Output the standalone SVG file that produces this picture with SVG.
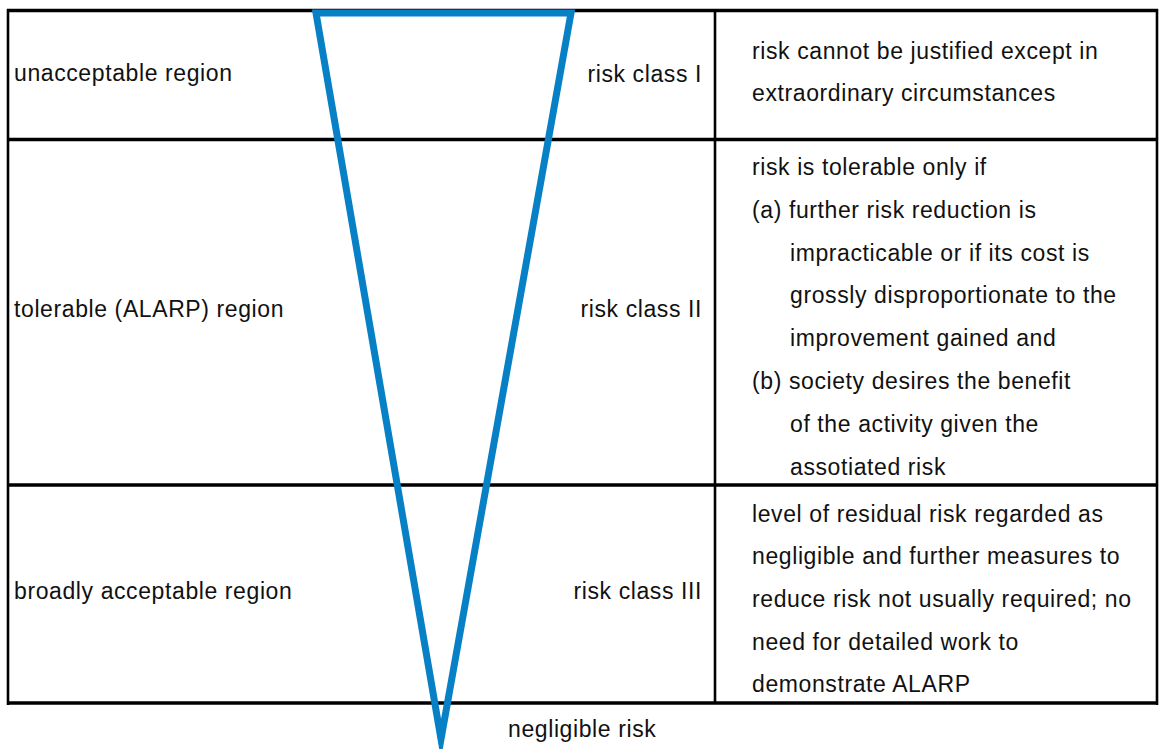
<svg xmlns="http://www.w3.org/2000/svg" width="1160" height="749" viewBox="0 0 1160 749">
<style>
text{font-family:"Liberation Sans",Arial,sans-serif;font-size:23px;fill:#111;letter-spacing:0.6px}
.end{text-anchor:end}
.hl{stroke:#000;stroke-width:3.5;fill:none}
.vl{stroke:#000;stroke-width:2.6;fill:none}
.tri{fill:none;stroke:#0780C6;stroke-width:7;stroke-linejoin:miter;stroke-miterlimit:12}
</style>
<rect width="1160" height="749" fill="#fff"/>
<g id="table">
<line class="vl" x1="8" y1="9" x2="8" y2="705"/>
<line class="vl" x1="1157" y1="9" x2="1157" y2="705"/>
<line class="vl" x1="715" y1="10" x2="715" y2="704"/>
<line class="hl" x1="7" y1="10.5" x2="1158" y2="10.5"/>
<line class="hl" x1="7" y1="139.5" x2="1158" y2="139.5"/>
<line class="hl" x1="7" y1="485" x2="1158" y2="485"/>
<line class="hl" x1="7" y1="703" x2="1158" y2="703"/>
</g>
<g id="row-unacceptable">
<text x="14" y="81">unacceptable region</text>
<text class="end" x="702" y="82">risk class I</text>
<text x="752" y="59">risk cannot be justified except in</text>
<text x="752" y="101">extraordinary circumstances</text>
</g>
<g id="row-tolerable">
<text x="14" y="317">tolerable (ALARP) region</text>
<text class="end" x="702" y="317">risk class II</text>
<text x="752" y="175">risk is tolerable only if</text>
<text x="752" y="218">(a) further risk reduction is</text>
<text x="790" y="261">impracticable or if its cost is</text>
<text x="790" y="303">grossly disproportionate to the</text>
<text x="790" y="346">improvement gained and</text>
<text x="752" y="389">(b) society desires the benefit</text>
<text x="790" y="432">of the activity given the</text>
<text x="790" y="475">assotiated risk</text>
</g>
<g id="row-broadly">
<text x="14" y="599">broadly acceptable region</text>
<text class="end" x="702" y="599">risk class III</text>
<text x="752" y="522">level of residual risk regarded as</text>
<text x="752" y="564">negligible and further measures to</text>
<text x="752" y="607">reduce risk not usually required; no</text>
<text x="752" y="650">need for detailed work to</text>
<text x="752" y="692">demonstrate ALARP</text>
</g>
<g id="negligible">
<text x="508" y="737">negligible risk</text>
</g>
<g id="triangle">
<path class="tri" d="M316 13 L571 13 L441 739 Z"/>
</g>
</svg>
